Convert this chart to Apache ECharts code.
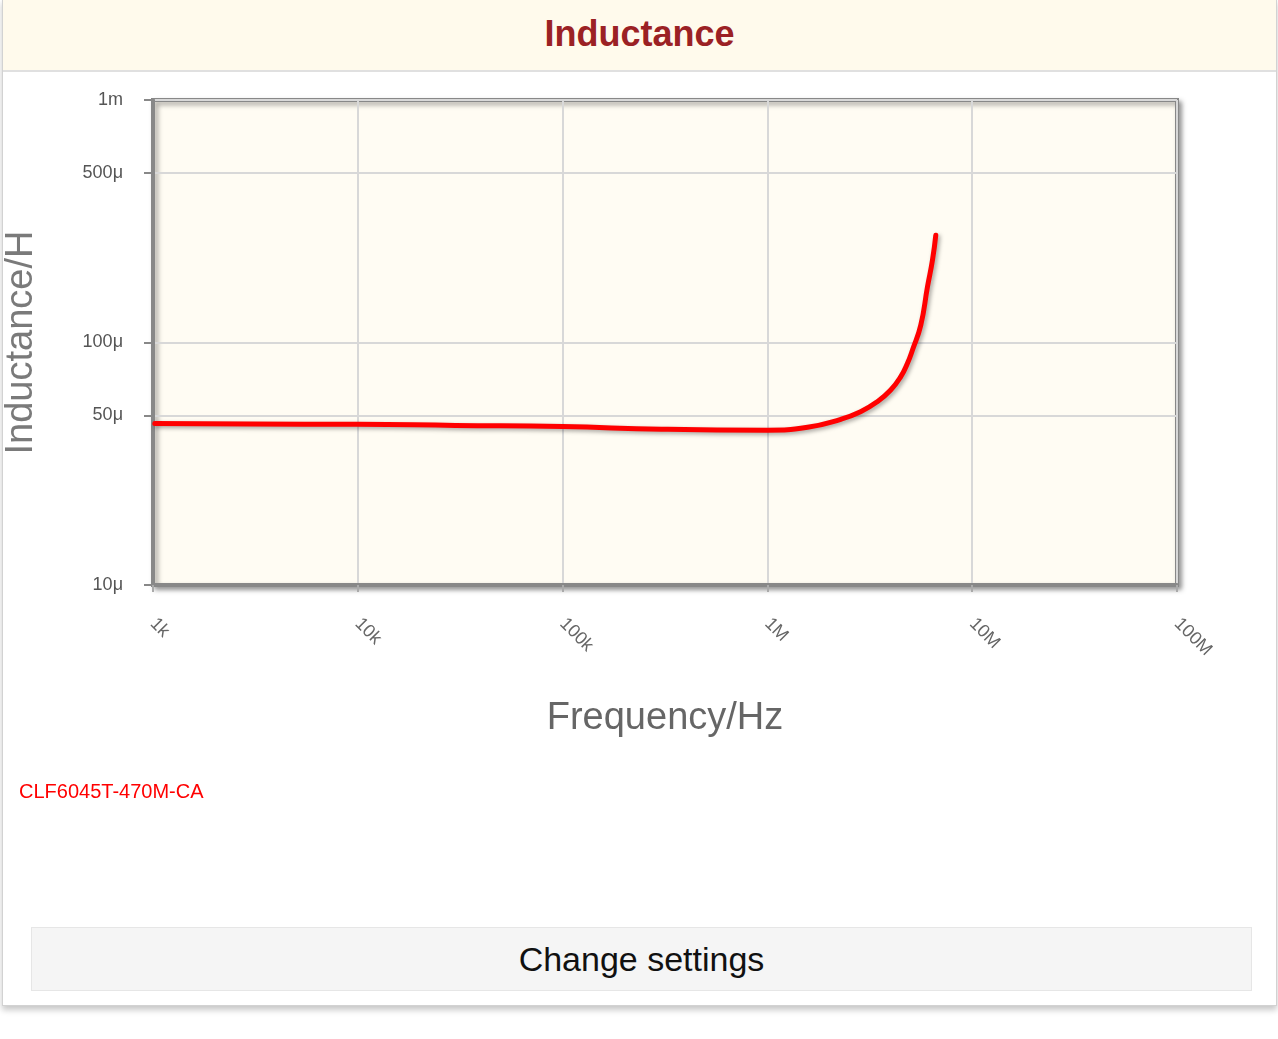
<!DOCTYPE html>
<html>
<head>
<meta charset="utf-8">
<script src="https://cdn.jsdelivr.net/npm/echarts@6/dist/echarts.min.js"></script>
<style>
  html, body { margin: 0; padding: 0; background: #ffffff; width: 1278px; height: 1039px; overflow: hidden; font-family: "Liberation Sans", Arial, sans-serif; }
  #panel { position: absolute; left: 2px; top: -1px; width: 1273px; height: 1005px; border: 1px solid #d2d2d2; box-shadow: 0 4px 6px rgba(0,0,0,0.22); background: #fff; }
  #header { position: absolute; left: 0; top: 0; width: 100%; height: 70px; background: #fffaec; border-bottom: 2px solid #e0e0e0; }
  #title { position: absolute; left: 0; width: 100%; top: 14px; text-align: center; font-weight: bold; font-size: 36px; color: #9b2124; line-height: 40px; }
  #btn { position: absolute; left: 28px; top: 927px; width: 1219px; height: 62px; background: #f5f5f5; border: 1px solid #e6e6e6; text-align: center; line-height: 62px; font-size: 34px; color: #111; }
  #chart { position: absolute; left: 0; top: 0; width: 1278px; height: 1039px; }
</style>
</head>
<body>
<div id="panel">
  <div id="header"><div id="title">Inductance</div></div>
  <div id="btn">Change settings</div>
</div>
<div id="chart"></div>
<script>
// Data
const seriesName = 'CLF6045T-470M-CA';
const freqHz = [1020, 3000, 10000, 30000, 100000, 304000, 1000000, 1570000, 2280000, 2850000, 3440000, 4000000, 4480000, 4830000, 5110000, 5610000, 6050000, 6400000, 6640000];
const inductanceH = [46.3e-6, 46.1e-6, 46.0e-6, 45.5e-6, 45.0e-6, 43.9e-6, 43.5e-6, 44.7e-6, 48.2e-6, 51.8e-6, 57.0e-6, 63.7e-6, 72.3e-6, 82.1e-6, 93.1e-6, 118e-6, 170e-6, 219e-6, 277e-6];
const yTickValues = [1e-5, 5e-5, 1e-4, 5e-4, 1e-3];
const xTickLabels = ['1k', '10k', '100k', '1M', '10M', '100M'];

const chart = echarts.init(document.getElementById('chart'), null, { renderer: 'canvas' });

function fmtX(v) {
  const e = Math.round(Math.log10(v)) - 3;
  return xTickLabels[e] !== undefined ? xTickLabels[e] : '';
}
function fmtY(v) {
  if (Math.abs(v - 1e-3) < 1e-9) return '1m';
  return Math.round(v * 1e6) + 'μ';
}

const data = freqHz.map((f, i) => [f, inductanceH[i]]);

chart.setOption({
  animation: false,
  backgroundColor: 'transparent',
  legend: {
    left: 9, top: 777, icon: 'none', itemWidth: 0, itemGap: 0,
    textStyle: { color: '#ff0000', fontSize: 20, fontFamily: 'Liberation Sans' },
    data: [seriesName]
  },
  grid: {
    left: 153, top: 100, right: 101, bottom: 454,
    outerBoundsMode: 'none', containLabel: false,
    show: true, backgroundColor: '#fffcf3', borderColor: '#888888', borderWidth: 4,
    shadowColor: 'rgba(0,0,0,0.35)', shadowBlur: 5, shadowOffsetX: 3, shadowOffsetY: 3
  },
  xAxis: {
    type: 'log', logBase: 10, min: 1e3, max: 1e8,
    name: 'Frequency/Hz', nameLocation: 'middle', nameGap: 115,
    nameTextStyle: { fontSize: 38, color: '#666', fontFamily: 'Liberation Sans' },
    axisLine: { show: true, lineStyle: { color: '#888888', width: 4 } },
    axisTick: { show: true, length: 7, lineStyle: { color: '#aaa', width: 2 } },
    axisLabel: { formatter: fmtX, rotate: -45, margin: 36, fontSize: 18, color: '#666', fontFamily: 'Liberation Sans' },
    splitLine: { show: true, lineStyle: { color: '#d8d8d8', width: 2 } },
    minorTick: { show: false }
  },
  yAxis: {
    type: 'log', logBase: 10, min: 1e-5, max: 1e-3,
    name: 'Inductance/H', nameLocation: 'middle', nameGap: 112, nameRotate: 90,
    nameTextStyle: { fontSize: 38, color: '#7a7a7a', fontFamily: 'Liberation Sans' },
    axisLine: { show: true, lineStyle: { color: '#888888', width: 4 } },
    axisTick: { show: true, length: 9, customValues: yTickValues, lineStyle: { color: '#888888', width: 2 } },
    axisLabel: { formatter: fmtY, customValues: yTickValues, margin: 30, fontSize: 18, color: '#555', fontFamily: 'Liberation Sans' },
    splitLine: { show: true, lineStyle: { color: '#d8d8d8', width: 2 } }
  },
  series: [{
    name: seriesName,
    type: 'line',
    data: data,
    smooth: 0.5,
    showSymbol: false,
    symbol: 'none',
    lineStyle: { color: '#ff0000', width: 5, cap: 'round', join: 'round', shadowColor: 'rgba(0,0,0,0.35)', shadowBlur: 4, shadowOffsetX: 2, shadowOffsetY: 2 },
    itemStyle: { color: '#ff0000' }
  }]
});
</script>
</body>
</html>
